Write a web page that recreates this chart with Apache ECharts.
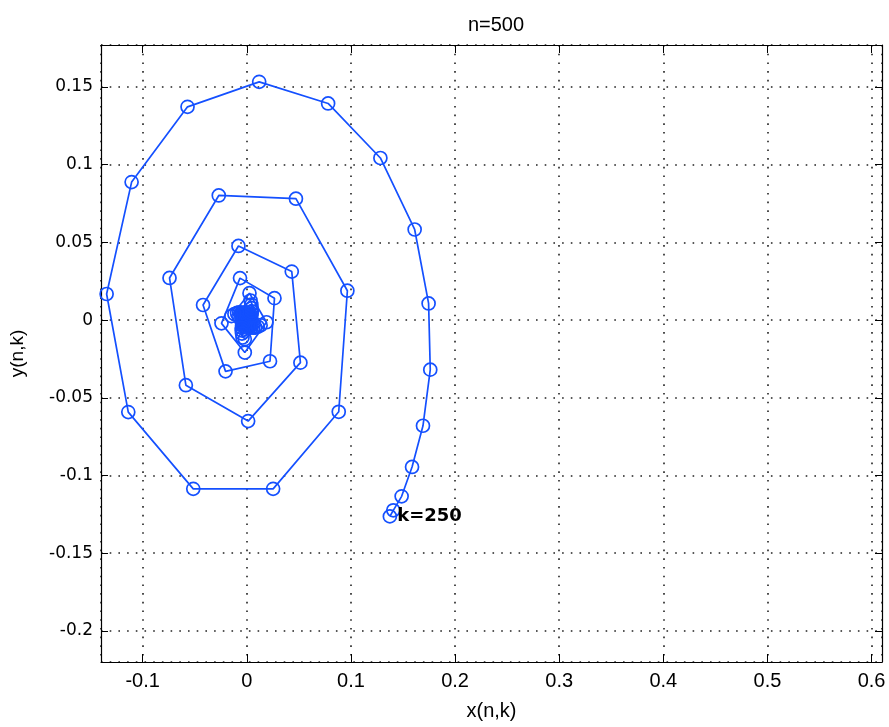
<!DOCTYPE html>
<html>
<head>
<meta charset="utf-8">
<script src="https://cdn.jsdelivr.net/npm/echarts@6/dist/echarts.min.js"></script>
<style>html,body{margin:0;padding:0;background:#fff;}#c{width:889px;height:727px;}</style>
</head>
<body>
<div id="c"></div>
<script>
const titleText = 'n=500';
const xName = 'x(n,k)';
const yName = 'y(n,k)';
const endLabel = 'k=250';
const xMin = -0.14, xMax = 0.61;
const yMin = -0.22, yMax = 0.177;

// trajectory points, inner (early k) to outer end (k=250)
const xValues = [
  0.0003, 0.0000, 0.0014, 0.0001, -0.0022, -0.0004, 0.0030, 0.0007, -0.0032, -0.0010,
  0.0034, 0.0013, -0.0037, -0.0017, 0.0040, 0.0022, -0.0042, -0.0027, 0.0043, 0.0032,
  -0.0045, -0.0039, 0.0047, 0.0046, -0.0048, -0.0053, 0.0048, 0.0062, -0.0049, -0.0072,
  0.0048, 0.0082, -0.0046, -0.0093, 0.0044, 0.0106, -0.0041, -0.0119, 0.0036, 0.0133,
  -0.0019, -0.0148,
  0.0026, 0.0189, -0.0019, -0.0243, -0.0065, 0.0266, 0.0223, -0.0204, -0.0420, -0.0080,
  0.0432, 0.0515, 0.0013, -0.0585, -0.0742, -0.0269, 0.0472, 0.0966, 0.0883, 0.0253,
  -0.0514, -0.1138, -0.1346, -0.1106, -0.0569, 0.0119, 0.0781, 0.1283, 0.1612, 0.1746,
  0.1762, 0.1692, 0.1587, 0.1487, 0.1407, 0.1374
];
const yValues = [
  0.0003, 0.0010, 0.0000, -0.0018, -0.0002, 0.0026, 0.0005, -0.0031, -0.0008, 0.0034,
  0.0011, -0.0036, -0.0015, 0.0038, 0.0019, -0.0041, -0.0024, 0.0042, 0.0029, -0.0044,
  -0.0035, 0.0046, 0.0042, -0.0047, -0.0050, 0.0048, 0.0057, -0.0049, -0.0067, 0.0049,
  0.0077, -0.0048, -0.0087, 0.0046, 0.0100, -0.0043, -0.0112, 0.0039, 0.0126, -0.0033,
  -0.0123, 0.0026,
  0.0173, -0.0014, -0.0209, -0.0021, 0.0270, 0.0141, -0.0265, -0.0330, 0.0097, 0.0477,
  0.0312, -0.0274, -0.0650, -0.0419, 0.0271, 0.0802, 0.0781, 0.0189, -0.0590, -0.1086,
  -0.1086, -0.0592, 0.0168, 0.0888, 0.1372, 0.1533, 0.1394, 0.1043, 0.0583, 0.0107,
  -0.0319, -0.0680, -0.0945, -0.1134, -0.1224, -0.1263
];

const blue = '#1450ff';
const data = xValues.map((x, i) => {
  const item = { value: [x, yValues[i]] };
  if (i === xValues.length - 1) {
    item.label = {
      show: true, formatter: endLabel, position: 'right', distance: 0,
      fontFamily: 'DejaVu Sans', fontWeight: 'bold', fontSize: 18, color: '#000'
    };
  }
  return item;
});

const chart = echarts.init(document.getElementById('c'), null, { renderer: 'canvas' });
const dotted = { color: '#222', width: 1.6, type: [1.6, 7.1] };
chart.setOption({
  animation: false,
  backgroundColor: '#fff',
  title: {
    text: titleText, left: 491, top: 10, textAlign: 'center',
    textStyle: { fontFamily: 'Liberation Sans', fontWeight: 'normal', fontSize: 20, color: '#000' }
  },
  grid: { left: 100, right: 7, top: 45, bottom: 65 },
  xAxis: [{
    type: 'value', min: xMin, max: xMax, splitNumber: 8, position: 'bottom',
    name: xName, nameLocation: 'middle', nameGap: 39,
    nameTextStyle: { fontFamily: 'Liberation Sans', fontSize: 20, color: '#000' },
    axisLine: { show: true, onZero: false, lineStyle: { color: '#000', width: 1.2 } },
    axisTick: { show: true, inside: true, length: 8, lineStyle: { color: '#000' } },
    axisLabel: { showMinLabel: false, showMaxLabel: false, margin: 9,
      fontFamily: 'Liberation Sans', fontSize: 20, color: '#000' },
    splitLine: { show: true, lineStyle: dotted }
  }, {
    type: 'value', min: xMin, max: xMax, splitNumber: 8, position: 'top',
    axisLine: { show: true, onZero: false, lineStyle: { color: '#000', width: 1.2 } },
    axisTick: { show: true, inside: true, length: 8, lineStyle: { color: '#000' } },
    axisLabel: { show: false }, splitLine: { show: false }
  }],
  yAxis: [{
    type: 'value', min: yMin, max: yMax, splitNumber: 8, position: 'left',
    name: yName, nameLocation: 'middle', nameGap: 74, nameRotate: 90,
    nameTextStyle: { fontFamily: 'Liberation Sans', fontSize: 19, color: '#000' },
    axisLine: { show: true, onZero: false, lineStyle: { color: '#000', width: 1.2 } },
    axisTick: { show: true, inside: true, length: 7, lineStyle: { color: '#000' } },
    axisLabel: { showMinLabel: false, showMaxLabel: false, margin: 8,
      fontFamily: 'DejaVu Sans', fontSize: 17, color: '#000' },
    splitLine: { show: true, lineStyle: dotted }
  }, {
    type: 'value', min: yMin, max: yMax, splitNumber: 8, position: 'right',
    axisLine: { show: true, onZero: false, lineStyle: { color: '#000', width: 1.2 } },
    axisTick: { show: true, inside: true, length: 7, lineStyle: { color: '#000' } },
    axisLabel: { show: false }, splitLine: { show: false }
  }],
  series: [{
    type: 'line', xAxisIndex: 0, yAxisIndex: 0,
    data: data,
    symbol: 'circle', symbolSize: 13, showAllSymbol: true,
    lineStyle: { color: blue, width: 1.7 },
    itemStyle: { color: 'rgba(0,0,0,0)', borderColor: blue, borderWidth: 1.7 },
    emphasis: { disabled: true },
    z: 5
  }]
});
</script>
</body>
</html>
